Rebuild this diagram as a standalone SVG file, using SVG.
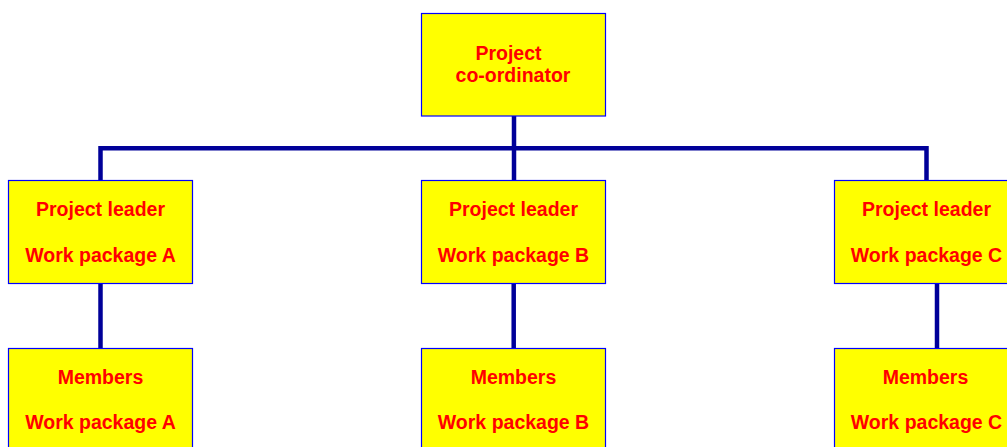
<svg xmlns="http://www.w3.org/2000/svg" width="1007" height="447" viewBox="0 0 1007 447">
<style>
.box{fill:#ffff00;stroke:#0000ff;stroke-width:1.2}
.t{font-family:"Liberation Sans",Arial,sans-serif;font-weight:bold;font-size:19.5px;fill:#ff0000;text-anchor:middle}
.c{stroke:#000099;stroke-width:4.5;fill:none;stroke-linejoin:miter;stroke-linecap:square}
</style>
<rect width="1007" height="447" fill="#ffffff"/>
<g id="connectors">
<path class="c" d="M514,117 V179"/>
<path class="c" d="M100.5,179 V148.3 H926.5 V179"/>
<path class="c" d="M100.5,286 V347"/>
<path class="c" d="M513.7,286 V347"/>
<path class="c" d="M937,286 V347"/>
</g>
<g id="coordinator">
<rect class="box" x="421.5" y="13.5" width="184" height="102.5"/>
<text class="t" x="508.5" y="60">Project</text>
<text class="t" x="513" y="82">co-ordinator</text>
</g>
<g id="leaderA">
<rect class="box" x="8.5" y="180.5" width="184" height="103"/>
<text class="t" x="100.5" y="216">Project leader</text>
<text class="t" x="100.5" y="262">Work package A</text>
</g>
<g id="leaderB">
<rect class="box" x="421.5" y="180.5" width="184" height="103"/>
<text class="t" x="513.5" y="216">Project leader</text>
<text class="t" x="513.5" y="262">Work package B</text>
</g>
<g id="leaderC">
<rect class="box" x="834.5" y="180.5" width="184" height="103"/>
<text class="t" x="926.5" y="216">Project leader</text>
<text class="t" x="926.5" y="262">Work package C</text>
</g>
<g id="membersA">
<rect class="box" x="8.5" y="348.5" width="184" height="103"/>
<text class="t" x="100.5" y="383.5">Members</text>
<text class="t" x="100.5" y="429">Work package A</text>
</g>
<g id="membersB">
<rect class="box" x="421.5" y="348.5" width="184" height="103"/>
<text class="t" x="513.5" y="383.5">Members</text>
<text class="t" x="513.5" y="429">Work package B</text>
</g>
<g id="membersC">
<rect class="box" x="834.5" y="348.5" width="184" height="103"/>
<text class="t" x="925.5" y="383.5">Members</text>
<text class="t" x="926.5" y="429">Work package C</text>
</g>
</svg>
